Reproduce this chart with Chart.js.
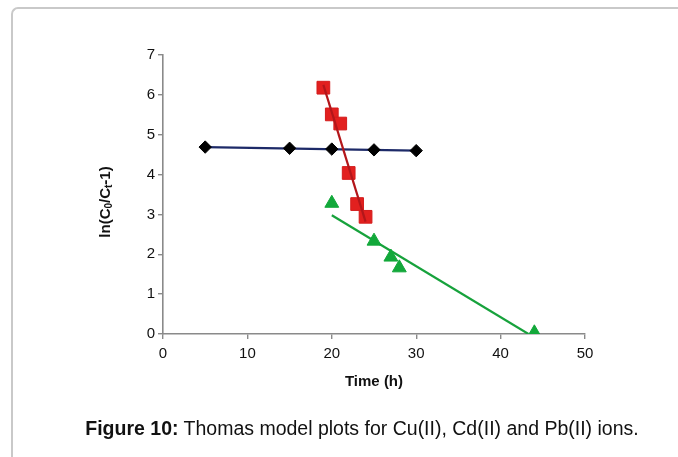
<!DOCTYPE html>
<html>
<head>
<meta charset="utf-8">
<script src="https://cdn.jsdelivr.net/npm/chart.js@4/dist/chart.umd.min.js"></script>
<style>
  html, body { margin: 0; padding: 0; background: #fff; }
  #wrap { position: relative; width: 678px; height: 457px; overflow: hidden; }
  #frame { position: absolute; left: 11px; top: 7px; width: 700px; height: 480px;
           border-left: 2px solid #c9c9c9; border-top: 2px solid #c9c9c9; border-top-left-radius: 7px; }
  #cv { position: absolute; left: 0; top: 0; }
  #caption { position: absolute; left: 0; width: 678px; top: 416px; text-align: center; line-height: 24px;
             font-family: "Liberation Sans", Arial, sans-serif; font-size: 19.5px; color: #111; padding-left: 46px; box-sizing: border-box; white-space: nowrap; }
</style>
</head>
<body>
<div id="wrap">
  <div id="frame"></div>
  <canvas id="cv" width="678" height="457"></canvas>
  <div id="caption"><b>Figure 10:</b> Thomas model plots for Cu(II), Cd(II) and Pb(II) ions.</div>
</div>
<script>
// Cu(II) points (black diamonds)
const cuTime = [5, 15, 20, 25, 30];
const cuVal  = [4.69, 4.66, 4.64, 4.62, 4.60];
const cuFitX = [5, 30];
const cuFitY = [4.69, 4.60];

// Cd(II) points (red squares)
const cdTime = [19, 20, 21, 22, 23, 24];
const cdVal  = [6.18, 5.51, 5.28, 4.04, 3.26, 2.94];
const cdFitX = [19, 24];
const cdFitY = [6.25, 2.82];

// Pb(II) points (green triangles)
const pbTime = [20, 25, 27, 28, 44];
const pbVal  = [3.28, 2.33, 1.93, 1.66, 0.03];
const pbFitX = [20, 43.3];
const pbFitY = [2.98, 0];

const xTicks = [0, 10, 20, 30, 40, 50];
const yTicks = [0, 1, 2, 3, 4, 5, 6, 7];

const pts = (xs, ys) => xs.map((x, i) => ({x: x, y: ys[i]}));

const FONT = '"Liberation Sans", Arial, sans-serif';

const yTitlePlugin = {
  id: 'yTitle',
  afterDraw(chart) {
    const ctx = chart.ctx;
    const parts = [
      {t: 'ln(C', s: 15, dy: 0},
      {t: '0', s: 10, dy: 3},
      {t: '/C', s: 15, dy: 0},
      {t: 't', s: 10, dy: 3},
      {t: '-1)', s: 15, dy: 0}
    ];
    ctx.save();
    ctx.translate(106, 202);
    ctx.rotate(-Math.PI / 2);
    ctx.fillStyle = '#111';
    ctx.textBaseline = 'middle';
    ctx.textAlign = 'left';
    let total = 0;
    parts.forEach(p => { ctx.font = 'bold ' + p.s + 'px ' + FONT; p.w = ctx.measureText(p.t).width; total += p.w; });
    let x = -total / 2;
    parts.forEach(p => { ctx.font = 'bold ' + p.s + 'px ' + FONT; ctx.fillText(p.t, x, p.dy); x += p.w; });
    ctx.restore();
  }
};

new Chart(document.getElementById('cv'), {
  type: 'scatter',
  data: {
    datasets: [
      { label: 'Cd fit', type: 'line', data: pts(cdFitX, cdFitY), borderColor: '#b3161a', borderWidth: 2.2, pointRadius: 0, fill: false, order: 1 },
      { label: 'Cd', data: pts(cdTime, cdVal), pointStyle: 'rect', pointRadius: 9, backgroundColor: '#e2201f', borderColor: '#d41c1c', borderWidth: 1, order: 2 },
      { label: 'Cu fit', type: 'line', data: pts(cuFitX, cuFitY), borderColor: '#1d2a68', borderWidth: 2.2, pointRadius: 0, fill: false, order: 4 },
      { label: 'Cu', data: pts(cuTime, cuVal), pointStyle: 'rectRot', pointRadius: 6.2, backgroundColor: '#000', borderColor: '#000', borderWidth: 1, order: 3 },
      { label: 'Pb fit', type: 'line', data: pts(pbFitX, pbFitY), borderColor: '#17a23c', borderWidth: 2.2, pointRadius: 0, fill: false, order: 6 },
      { label: 'Pb', data: pts(pbTime, pbVal), pointStyle: 'triangle', pointRadius: 8, backgroundColor: '#12a83a', borderColor: '#12a83a', borderWidth: 1, order: 5 }
    ]
  },
  options: {
    responsive: false,
    animation: false,
    events: [],
    layout: { padding: { left: 0, right: 93, top: 55, bottom: 57 } },
    plugins: { legend: { display: false }, tooltip: { enabled: false } },
    scales: {
      x: {
        type: 'linear', min: 0, max: 50,
        afterFit(s) { s.height = 66; },
        afterBuildTicks(s) { s.ticks = xTicks.map(v => ({value: v})); },
        border: { color: '#8a8a8a', width: 1.6 },
        grid: { display: true, drawOnChartArea: false, drawTicks: true, tickLength: 5, color: '#8a8a8a', lineWidth: 1.4 },
        ticks: { color: '#111', font: { family: FONT, size: 15 }, padding: 6, maxRotation: 0 },
        title: { display: true, text: 'Time (h)', color: '#111', font: { family: FONT, size: 15, weight: 'bold' }, padding: { top: 0, bottom: 9 } }
      },
      y: {
        type: 'linear', min: 0, max: 7,
        afterFit(s) { s.width = 163; },
        afterBuildTicks(s) { s.ticks = yTicks.map(v => ({value: v})); },
        border: { color: '#8a8a8a', width: 1.6 },
        grid: { display: true, drawOnChartArea: false, drawTicks: true, tickLength: 5, color: '#8a8a8a', lineWidth: 1.4 },
        ticks: { color: '#111', font: { family: FONT, size: 15 }, padding: 3 }
      }
    }
  },
  plugins: [yTitlePlugin]
});
</script>
</body>
</html>
